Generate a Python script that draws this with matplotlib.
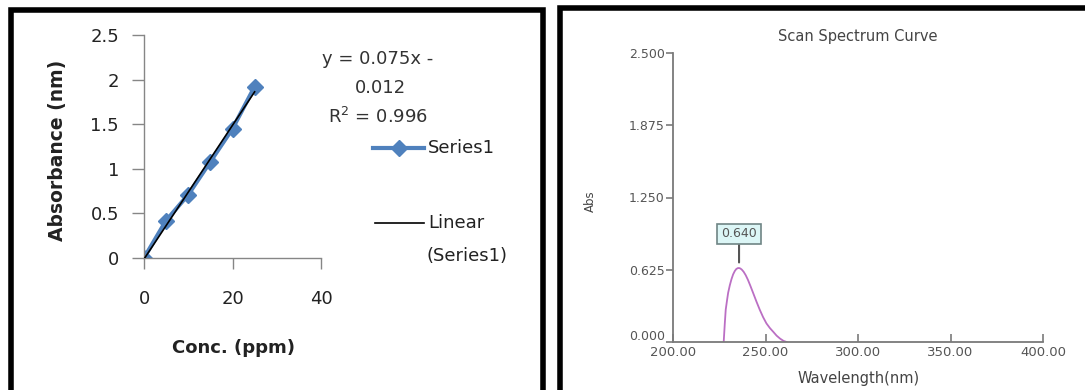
import numpy as np
import matplotlib.pyplot as plt
import matplotlib.transforms as mtransforms
from matplotlib.patches import Rectangle

# calibration data (standard solutions)
conc = [0, 5, 10, 15, 20, 25]
absorb = [0, 0.42, 0.71, 1.08, 1.45, 1.92]
slope = 0.075
intercept = -0.012
r2 = 0.996
cal_yticks = [0, 0.5, 1, 1.5, 2, 2.5]
cal_yticklabels = ["0", "0.5", "1", "1.5", "2", "2.5"]
cal_xticks = [0, 20, 40]

# UV scan of the sample
wavelength = [226.5, 227.4, 228.0, 228.5, 229.2, 229.8, 230.7, 231.6, 232.5, 233.4,
              234.2, 235.0, 235.7, 236.4, 237.2, 238.2, 239.3, 240.5, 241.8, 243.3,
              245.1, 246.9, 248.7, 250.5, 252.4, 254.2, 256.0, 257.9, 259.7, 261.4]
scan_abs = [-0.15, 0.0, 0.16, 0.28, 0.36, 0.425, 0.49, 0.543, 0.585, 0.614,
            0.631, 0.639, 0.640, 0.636, 0.626, 0.607, 0.578, 0.538, 0.487, 0.425,
            0.35, 0.279, 0.215, 0.161, 0.12, 0.088, 0.055, 0.029, 0.01, 0.0]
peak_wl = 235.7
peak_abs = 0.640
scan_yticks = [0, 0.625, 1.25, 1.875, 2.5]
scan_xticks = [200, 250, 300, 350, 400]

W, H = 1085, 390
fig = plt.figure(figsize=(W / 100, H / 100), dpi=100)
plt.rcParams['font.family'] = 'DejaVu Sans'


def px_axes(x0, y0, x1, y1):
    # axes box given in pixels from the top-left corner
    return fig.add_axes([x0 / W, 1 - y1 / H, (x1 - x0) / W, (y1 - y0) / H])


def fx(x):
    return x / W


def fy(y):
    return 1 - y / H


# ---- calibration curve ----
ax1 = px_axes(144, 35, 321, 258)
ax1.plot(conc, absorb, color="#4f81bd", lw=3, marker="D", ms=8.5, zorder=2)
xfit = np.array([conc[0], conc[-1]])
ax1.plot(xfit, slope * xfit + intercept, color="black", lw=1.2, zorder=3)
ax1.set_xlim(0, 40)
ax1.set_ylim(0, 2.5)
ax1.set_xticks(cal_xticks)
ax1.set_yticks(cal_yticks)
ax1.set_yticklabels(cal_yticklabels)
for s in ["top", "right"]:
    ax1.spines[s].set_visible(False)
for s in ["left", "bottom"]:
    ax1.spines[s].set_color("#868686")
    ax1.spines[s].set_linewidth(1.0)
ax1.tick_params(axis="y", direction="out", length=9, width=1, color="#868686",
                pad=9, labelsize=13, labelcolor="#222222")
ax1.tick_params(axis="x", direction="out", length=8, width=1, color="#868686",
                pad=15, labelsize=13, labelcolor="#222222")
for t in ax1.get_xticklines() + ax1.get_yticklines():
    t.set_clip_on(False)
ax1.patch.set_alpha(0)

fig.text(fx(57), fy(150), "Absorbance (nm)", rotation=90, ha="center", va="center",
         fontsize=13.5, fontweight="bold", color="#222222")
fig.text(fx(234), fy(348), "Conc. (ppm)", ha="center", va="center",
         fontsize=13, fontweight="bold", color="#222222")

fig.text(fx(378), fy(59), "y = 0.075x -", ha="center", va="center", fontsize=13, color="#333333")
fig.text(fx(380), fy(88), "0.012", ha="center", va="center", fontsize=13, color="#333333")
fig.text(fx(378), fy(117), "R$^2$ = 0.996", ha="center", va="center", fontsize=13, color="#333333")

# legend drawn by hand
fig.add_artist(plt.Line2D([fx(373), fx(424)], [fy(148), fy(148)], color="#4f81bd", lw=3))
fig.add_artist(plt.Line2D([fx(399)], [fy(148)], color="#4f81bd", marker="D", ms=8.5))
fig.text(fx(428), fy(148), "Series1", ha="left", va="center", fontsize=13, color="#222222")
fig.add_artist(plt.Line2D([fx(375), fx(424)], [fy(223), fy(223)], color="black", lw=1.2))
fig.text(fx(428), fy(223), "Linear", ha="left", va="center", fontsize=13, color="#222222")
fig.text(fx(427), fy(256), "(Series1)", ha="left", va="center", fontsize=13, color="#222222")

# ---- scan spectrum ----
ax2 = px_axes(673, 53, 1043, 342)
ax2.plot(wavelength, scan_abs, color="#bb6fc4", lw=1.3)
ax2.set_xlim(200, 400)
ax2.set_ylim(0, 2.5)
ax2.set_xticks(scan_xticks)
ax2.set_xticklabels(["%.2f" % v for v in scan_xticks])
ax2.set_yticks(scan_yticks)
ax2.set_yticklabels(["%.3f" % v for v in scan_yticks])
for s in ["top", "right"]:
    ax2.spines[s].set_visible(False)
for s in ["left", "bottom"]:
    ax2.spines[s].set_color("#7a7a7a")
    ax2.spines[s].set_linewidth(1.3)
ax2.tick_params(axis="y", direction="out", length=5, width=1.2, color="#7a7a7a",
                pad=1, labelsize=9, labelcolor="#555555")
ax2.tick_params(axis="x", direction="in", length=6, width=1.2, color="#7a7a7a",
                pad=3, labelsize=9.5, labelcolor="#555555")
ax2.patch.set_alpha(0)
# lift the bottom y label clear of the x labels
lab0 = ax2.get_yticklabels()[0]
lab0.set_transform(lab0.get_transform() +
                   mtransforms.ScaledTranslation(0, 5 / 72, fig.dpi_scale_trans))

ax2.annotate("%.3f" % peak_abs, xy=(peak_wl, peak_abs), xytext=(0, 24.5),
             textcoords="offset points", ha="center", va="center", fontsize=9,
             color="#555555",
             bbox=dict(boxstyle="square,pad=0.3", fc="#dcf6f6", ec="#6f8585", lw=1.2),
             arrowprops=dict(arrowstyle="-", color="#555555", lw=1.5, shrinkA=0, shrinkB=4))

fig.text(fx(858), fy(37), "Scan Spectrum Curve", ha="center", va="center",
         fontsize=10.5, color="#444444")
fig.text(fx(859), fy(378), "Wavelength(nm)", ha="center", va="center",
         fontsize=10.5, color="#444444")
fig.text(fx(590), fy(201), "Abs", rotation=90, ha="center", va="center",
         fontsize=8.5, color="#444444")

# panel frames
fig.add_artist(Rectangle((fx(10.5), fy(420)), fx(532), (420 - 10) / H,
                         transform=fig.transFigure, fill=False, ec="black", lw=4))
fig.add_artist(Rectangle((fx(560), fy(420)), fx(600), (420 - 8) / H,
                         transform=fig.transFigure, fill=False, ec="black", lw=4))

fig.savefig("out.png", dpi=100)
